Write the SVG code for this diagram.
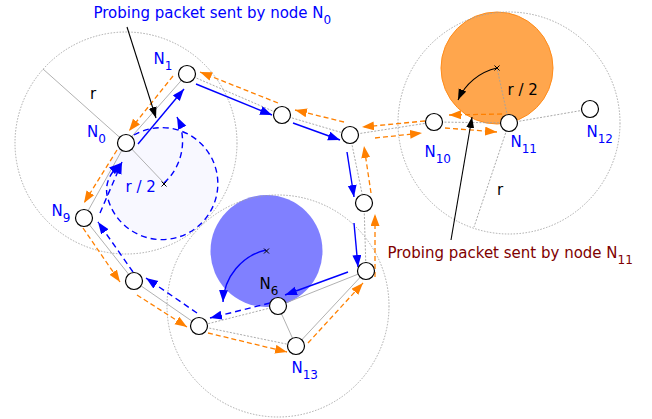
<svg xmlns="http://www.w3.org/2000/svg" width="652" height="419" viewBox="0 0 652 419">
<style>
.big{fill:none;stroke:#a0a0a0;stroke-width:0.9;stroke-dasharray:1.5,1.5}
.eg{stroke:#a8a8a8;stroke-width:0.9;fill:none}
.ed{stroke:#a0a0a0;stroke-width:0.9;fill:none;stroke-dasharray:2,1.5}
.bl{stroke:#0000ff;stroke-width:1.4;fill:none;marker-end:url(#ab)}
.bd{stroke:#0000ff;stroke-width:1.4;fill:none;stroke-dasharray:6,4;marker-end:url(#ab)}
.or{stroke:#ff8000;stroke-width:1.3;fill:none;stroke-dasharray:5,3;marker-end:url(#ao)}
.bk{stroke:#000;stroke-width:1.1;fill:none;marker-end:url(#ak)}
.node circle{fill:#fff;stroke:#000;stroke-width:1.2}
.lbl{font-family:"DejaVu Sans",sans-serif;font-size:15px;fill:#0000ff}
.sub{font-size:12px}
.t{font-family:"DejaVu Sans",sans-serif;font-size:15px}
.xm{stroke:#000;stroke-width:1}
</style>
<defs>
<marker id="ab" markerUnits="userSpaceOnUse" markerWidth="13" markerHeight="10" refX="12" refY="4.5" orient="auto"><path d="M0,0 L12,4.5 L0,9 z" fill="#0000ff"/></marker>
<marker id="ao" markerUnits="userSpaceOnUse" markerWidth="13" markerHeight="10" refX="12" refY="4.5" orient="auto"><path d="M0,0 L12,4.5 L0,9 z" fill="#ff8000"/></marker>
<marker id="ak" markerUnits="userSpaceOnUse" markerWidth="12" markerHeight="9" refX="11" refY="4" orient="auto"><path d="M0,0 L11,4 L0,8 z" fill="#000"/></marker>
</defs>
<rect width="652" height="419" fill="#fff"/>

<g id="areas">
<circle cx="162" cy="183" r="56" fill="#f8f8ff"/>
<circle cx="266.5" cy="251" r="56" fill="#8080ff"/>
<circle cx="497" cy="68" r="56" fill="#ffa64d" stroke="#ff8c1a" stroke-width="1"/>
</g>

<g id="ranges">
<circle class="big" cx="126" cy="143" r="111"/>
<circle class="big" cx="509" cy="123" r="111"/>
<circle class="big" cx="278" cy="306" r="111"/>
<line class="eg" x1="126" y1="143" x2="43" y2="69"/>
<line class="eg" x1="126" y1="143" x2="164" y2="183"/>
<line class="ed" x1="509" y1="123" x2="474" y2="227"/>
<line class="ed" x1="509" y1="123" x2="497" y2="68"/>
</g>

<g id="edges">
<line class="eg" x1="126" y1="143" x2="187" y2="74"/>
<line class="ed" x1="187" y1="74" x2="282" y2="115"/>
<line class="ed" x1="282" y1="115" x2="350" y2="135"/>
<line class="ed" x1="350" y1="135" x2="364" y2="203"/>
<line class="ed" x1="364" y1="203" x2="366" y2="271"/>
<line class="eg" x1="366" y1="271" x2="278" y2="306"/>
<line class="eg" x1="366" y1="271" x2="296" y2="346"/>
<line class="eg" x1="278" y1="306" x2="296" y2="346"/>
<line class="ed" x1="278" y1="306" x2="199" y2="326"/>
<line class="ed" x1="199" y1="326" x2="296" y2="346"/>
<line class="eg" x1="199" y1="326" x2="134" y2="281"/>
<line class="eg" x1="134" y1="281" x2="84" y2="218"/>
<line class="eg" x1="84" y1="218" x2="126" y2="143"/>
<line class="ed" x1="350" y1="135" x2="434" y2="122"/>
<line class="ed" x1="434" y1="122" x2="509" y2="123"/>
<line class="ed" x1="509" y1="123" x2="590" y2="109"/>
</g>

<g id="connectors">
<line class="or" x1="502" y1="114" x2="449" y2="115"/>
<line class="or" x1="425" y1="121" x2="362" y2="127"/>
<line class="or" x1="375" y1="138" x2="422" y2="133"/>
<line class="or" x1="445" y1="128" x2="497" y2="132"/>
<line class="or" x1="344" y1="122" x2="295" y2="110"/>
<line class="or" x1="278" y1="103" x2="200" y2="72"/>
<line class="or" x1="173" y1="76" x2="129" y2="131"/>
<line class="or" x1="117" y1="150" x2="84" y2="203"/>
<line class="or" x1="83" y1="228" x2="120" y2="282"/>
<line class="or" x1="137" y1="295" x2="187" y2="327"/>
<line class="or" x1="208" y1="333" x2="287" y2="352"/>
<line class="or" x1="308" y1="343" x2="363" y2="283"/>
<line class="or" x1="375" y1="277" x2="375" y2="214"/>
<line class="or" x1="371" y1="193" x2="364" y2="146"/>

<line class="bl" x1="138" y1="144" x2="184" y2="89"/>
<line class="bl" x1="196" y1="84" x2="272" y2="115"/>
<line class="bl" x1="293" y1="123" x2="340" y2="140"/>
<line class="bl" x1="347" y1="152" x2="354" y2="197"/>
<line class="bl" x1="354" y1="223" x2="358" y2="267"/>
<line class="bl" x1="348" y1="272" x2="285" y2="295"/>
<line class="bd" x1="270" y1="303" x2="210" y2="318"/>
<line class="bd" x1="197" y1="313" x2="146" y2="278"/>
<line class="bd" x1="133" y1="272" x2="98" y2="222"/>
<line class="bd" x1="100" y1="213" x2="122" y2="162"/>
<path class="bd" d="M134,135 A56,56 0 1 1 107,195 Q104,178 121,163" marker-end="none"/>
<path class="bd" d="M164,183 A56,56 0 0 0 177,117"/>
<path class="bl" d="M266,250 A56,56 0 0 0 223,302" stroke-width="1"/>

<path class="bk" d="M497,68 A56,56 0 0 0 458,100"/>
<line class="bk" x1="127" y1="27" x2="156" y2="118"/>
<line class="bk" x1="451" y1="240" x2="472" y2="117"/>
</g>

<g id="N0" class="node"><circle cx="126" cy="143" r="8.5"/><text class="lbl" x="87" y="137">N<tspan class="sub" dy="6">0</tspan></text></g>
<g id="N1" class="node"><circle cx="187" cy="74" r="8.5"/><text class="lbl" x="153.5" y="64">N<tspan class="sub" dy="6">1</tspan></text></g>
<g id="n2" class="node"><circle cx="282" cy="115" r="8.5"/></g>
<g id="n3" class="node"><circle cx="350" cy="135" r="8.5"/></g>
<g id="n4" class="node"><circle cx="364" cy="203" r="8.5"/></g>
<g id="n5" class="node"><circle cx="366" cy="271" r="8.5"/></g>
<g id="N6" class="node"><circle cx="278" cy="306" r="8.5"/><text class="t" x="259.5" y="289" fill="#000">N<tspan class="sub" dy="6">6</tspan></text></g>
<g id="n7" class="node"><circle cx="199" cy="326" r="8.5"/></g>
<g id="n8" class="node"><circle cx="134" cy="281" r="8.5"/></g>
<g id="N9" class="node"><circle cx="84" cy="218" r="8.5"/><text class="lbl" x="51.5" y="216">N<tspan class="sub" dy="6">9</tspan></text></g>
<g id="N10" class="node"><circle cx="434" cy="122" r="8.5"/><text class="lbl" x="424.5" y="157">N<tspan class="sub" dy="6">10</tspan></text></g>
<g id="N11" class="node"><circle cx="509" cy="123" r="8.5"/><text class="lbl" x="510.5" y="147">N<tspan class="sub" dy="6">11</tspan></text></g>
<g id="N12" class="node"><circle cx="590" cy="109" r="8.5"/><text class="lbl" x="586.5" y="137">N<tspan class="sub" dy="6">12</tspan></text></g>
<g id="N13" class="node"><circle cx="296" cy="346" r="8.5"/><text class="lbl" x="291.5" y="373">N<tspan class="sub" dy="6">13</tspan></text></g>

<g id="marks">
<path class="xm" d="M161.5,181.5 l5,5 M166.5,181.5 l-5,5"/>
<path class="xm" d="M264,248.5 l5,5 M269,248.5 l-5,5"/>
<path class="xm" d="M494.5,65.5 l5,5 M499.5,65.5 l-5,5"/>
</g>

<g id="labels">
<text class="t" x="93.5" y="18" fill="#0000ff">Probing packet sent by node N<tspan class="sub" dy="6">0</tspan></text>
<text class="t" x="387.5" y="258" fill="#800000">Probing packet sent by node N<tspan class="sub" dy="6">11</tspan></text>
<text class="t" x="90" y="99" fill="#000">r</text>
<text class="t" x="497" y="195" fill="#000">r</text>
<text class="t" x="125.5" y="192" fill="#0000ff">r / 2</text>
<text class="t" x="507.5" y="95" fill="#000">r / 2</text>
</g>
</svg>
